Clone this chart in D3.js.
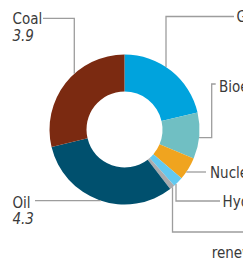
<!DOCTYPE html>
<html>
<head>
<meta charset="utf-8">
<script src="https://cdn.jsdelivr.net/npm/d3@7"></script>
<style>
  body { margin: 0; background: #fff; }
  svg { display: block; }
  text { font-family: "Liberation Sans Narrow", "DejaVu Sans Condensed", "Roboto", sans-serif; fill: #3a3a3a; font-size: 15px; }
  .val { font-style: italic; }
  .leader { fill: none; stroke: #9d9d9d; stroke-width: 1.3; }
</style>
</head>
<body>
<svg id="chart"></svg>
<script>
// energy demand by source (clockwise from 12 o'clock)
var categories = ["Gas", "Bioenergy", "Nuclear", "Hydro", "Other renewables", "Oil", "Coal"];
var values = [2.9, 1.35, 0.67, 0.3, 0.15, 4.3, 3.9];
var valueLabels = {"Coal": "3.9", "Oil": "4.3"};
var colors = ["#00a3dd", "#70bfc3", "#f0a41f", "#62c9f0", "#a9abae", "#00506e", "#7b2a11"];

var width = 243, height = 275;
var cx = 124.5, cy = 129.5, rOut = 75, rIn = 38;

var svg = d3.select("#chart")
    .attr("width", width)
    .attr("height", height);

var data = categories.map(function(c, i) { return {name: c, value: values[i]}; });

var pie = d3.pie()
    .sort(null)
    .value(function(d) { return d.value; });

var arc = d3.arc()
    .innerRadius(rIn)
    .outerRadius(rOut);

var g = svg.append("g")
    .attr("transform", "translate(" + cx + "," + cy + ")");

g.selectAll("path.slice")
    .data(pie(data))
    .enter().append("path")
    .attr("class", "slice")
    .attr("d", arc)
    .attr("fill", function(d, i) { return colors[i]; });

// point on the outer edge for a given x (top or bottom half) or y (right/left half)
function edgeY(x, below) {
    var dx = x - cx;
    var dy = Math.sqrt(rOut * rOut - dx * dx);
    return below ? cy + dy : cy - dy;
}
function edgeX(y, left) {
    var dy = y - cy;
    var dx = Math.sqrt(rOut * rOut - dy * dy);
    return left ? cx - dx : cx + dx;
}

// leader lines + labels
var labels = [
    {name: "Coal", lines: ["Coal"], tx: 12.5, ty: 24,
     pts: [[43, 18.3], [74.3, 18.3], [74.3, edgeY(74.3, false)]]},
    {name: "Gas", lines: ["Gas"], tx: 236.5, ty: 22,
     pts: [[166, edgeY(166, false)], [166, 16.5], [234, 16.5]]},
    {name: "Bioenergy", lines: ["Bioenergy"], tx: 219, ty: 91.5,
     pts: [[215.7, 84], [211.7, 84], [211.7, 137.7], [edgeX(137.7, false), 137.7]]},
    {name: "Nuclear", lines: ["Nuclear"], tx: 210, ty: 178.3,
     pts: [[edgeX(172, false), 172], [206, 172]]},
    {name: "Hydro", lines: ["Hydro"], tx: 222.5, ty: 206.7,
     pts: [[176, edgeY(176, true)], [176, 201], [220, 201]]},
    {name: "Other renewables", lines: ["renewables"], tx: 211.7, ty: 258,
     pts: [[172.5, edgeY(172.5, true)], [172.5, 232], [250, 232]]},
    {name: "Oil", lines: ["Oil"], tx: 12.5, ty: 207.5,
     pts: [[35, 200.7], [edgeX(200.7, true), 200.7]]}
];

var line = d3.line();

svg.selectAll("path.leader")
    .data(labels)
    .enter().append("path")
    .attr("class", "leader")
    .attr("d", function(d) { return line(d.pts); });

labels.forEach(function(d) {
    var t = svg.append("text")
        .attr("x", d.tx)
        .attr("y", d.ty);
    d.lines.forEach(function(l, i) {
        t.append("tspan")
            .attr("x", d.tx)
            .attr("dy", i == 0 ? 0 : 16.5)
            .text(l);
    });
    if (valueLabels[d.name]) {
        svg.append("text")
            .attr("class", "val")
            .attr("x", d.tx)
            .attr("y", d.ty + 16.5)
            .text(valueLabels[d.name]);
    }
});
</script>
</body>
</html>
